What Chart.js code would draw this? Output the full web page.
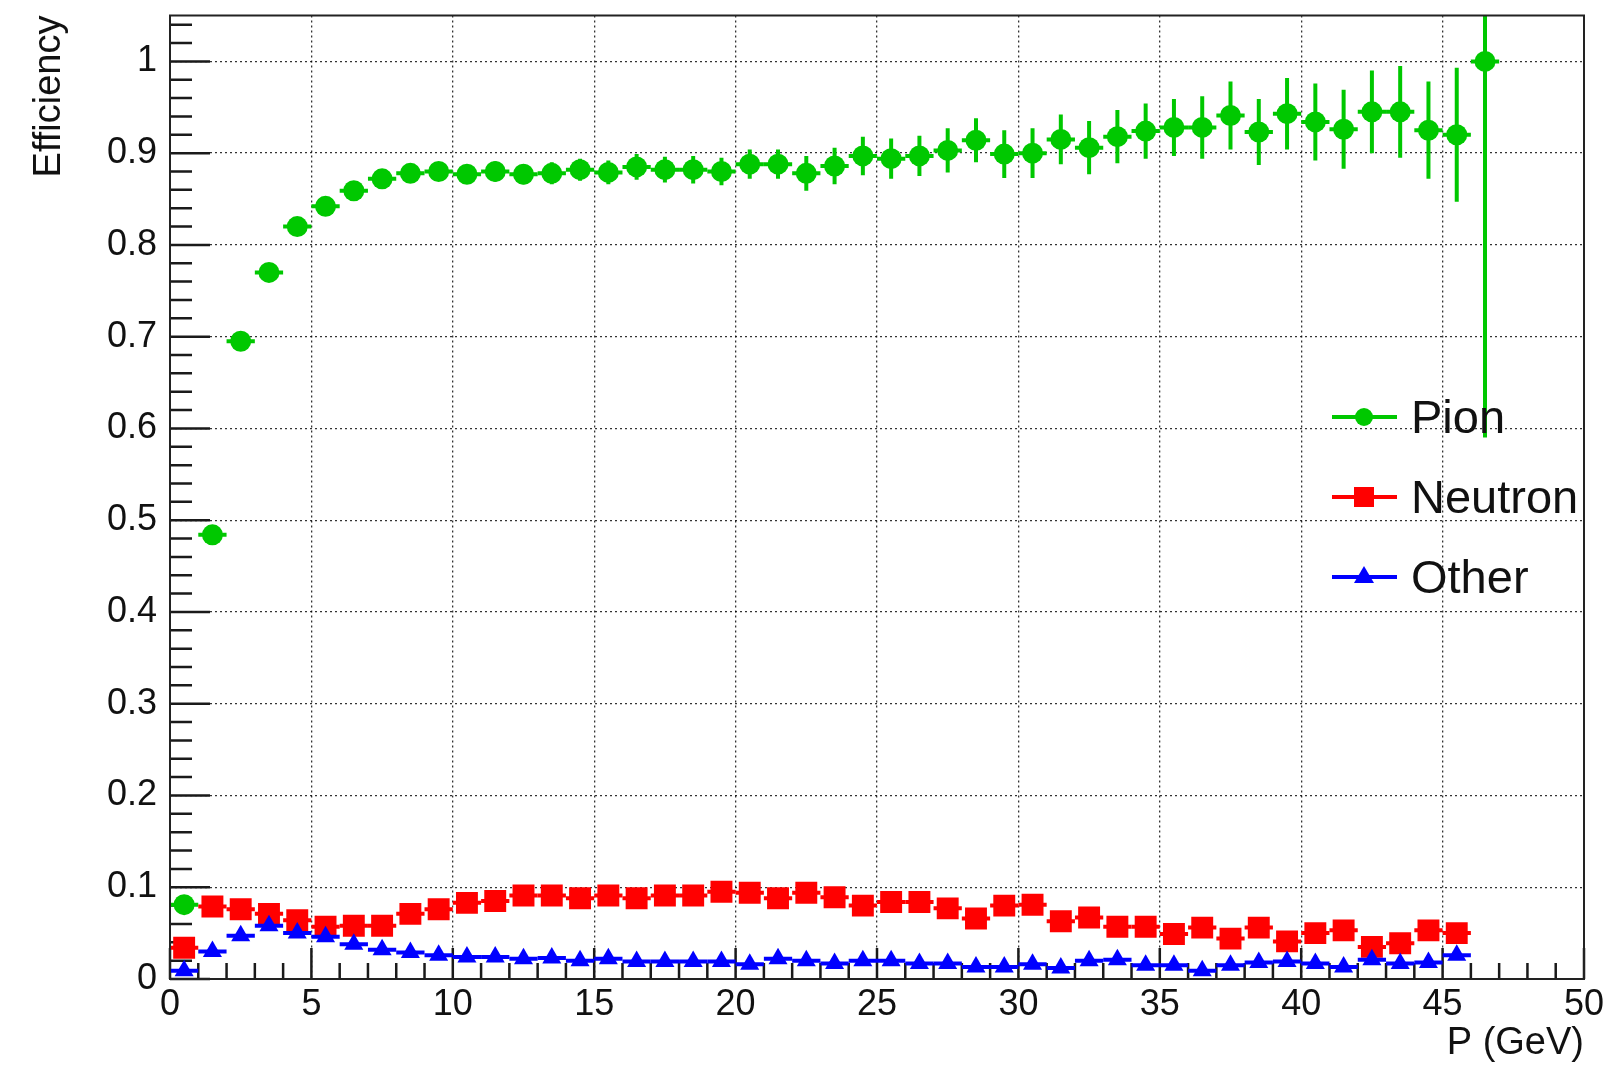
<!DOCTYPE html>
<html>
<head>
<meta charset="utf-8">
<script src="https://cdn.jsdelivr.net/npm/chart.js@4.4.1/dist/chart.umd.min.js"></script>
<style>
  html, body { margin: 0; padding: 0; background: #fff; }
  canvas { display: block; }
</style>
</head>
<body>
<canvas id="effChart" width="1603" height="1069"></canvas>
<script>
// bin centres, P in GeV
const pBins = [0.5, 1.5, 2.5, 3.5, 4.5, 5.5, 6.5, 7.5, 8.5, 9.5,
  10.5, 11.5, 12.5, 13.5, 14.5, 15.5, 16.5, 17.5, 18.5, 19.5,
  20.5, 21.5, 22.5, 23.5, 24.5, 25.5, 26.5, 27.5, 28.5, 29.5,
  30.5, 31.5, 32.5, 33.5, 34.5, 35.5, 36.5, 37.5, 38.5, 39.5,
  40.5, 41.5, 42.5, 43.5, 44.5, 45.5, 46.5];

const pionEff = [0.081, 0.484, 0.695, 0.770, 0.820, 0.842, 0.859, 0.872, 0.878, 0.880,
  0.877, 0.880, 0.877, 0.878, 0.882, 0.879, 0.885, 0.882, 0.882, 0.880,
  0.888, 0.888, 0.878, 0.886, 0.897, 0.894, 0.897, 0.903, 0.914, 0.899,
  0.900, 0.915, 0.906, 0.918, 0.924, 0.928, 0.928, 0.941, 0.923, 0.943,
  0.934, 0.926, 0.945, 0.945, 0.925, 0.920, 1.000];

const pionErr = [0.004, 0.006, 0.006, 0.006, 0.006, 0.006, 0.006, 0.007, 0.007, 0.008,
  0.010, 0.011, 0.011, 0.012, 0.012, 0.013, 0.014, 0.014, 0.015, 0.015,
  0.016, 0.016, 0.019, 0.020, 0.021, 0.022, 0.022, 0.024, 0.024, 0.026,
  0.027, 0.027, 0.029, 0.029, 0.030, 0.031, 0.034, 0.037, 0.036, 0.039,
  0.042, 0.043, 0.045, 0.050, 0.053, 0.073, 0.410];

const neutronEff = [0.034, 0.079, 0.076, 0.071, 0.064, 0.057, 0.058, 0.058, 0.071, 0.076,
  0.083, 0.085, 0.091, 0.091, 0.088, 0.091, 0.088, 0.091, 0.091, 0.095,
  0.094, 0.088, 0.094, 0.089, 0.080, 0.084, 0.084, 0.077, 0.066, 0.080,
  0.081, 0.063, 0.067, 0.057, 0.057, 0.049, 0.056, 0.044, 0.056, 0.041,
  0.050, 0.053, 0.035, 0.039, 0.053, 0.050];

const otherEff = [0.009, 0.030, 0.047, 0.058, 0.050, 0.046, 0.038, 0.032, 0.029, 0.026,
  0.024, 0.024, 0.022, 0.023, 0.020, 0.022, 0.019, 0.019, 0.019, 0.019,
  0.016, 0.022, 0.020, 0.017, 0.020, 0.020, 0.017, 0.017, 0.013, 0.013,
  0.016, 0.012, 0.020, 0.021, 0.015, 0.015, 0.009, 0.015, 0.018, 0.019,
  0.017, 0.013, 0.021, 0.017, 0.018, 0.026];

const xTickValues = [0, 5, 10, 15, 20, 25, 30, 35, 40, 45, 50];
const yTickValues = [0, 0.1, 0.2, 0.3, 0.4, 0.5, 0.6, 0.7, 0.8, 0.9, 1];
const binHalfWidth = 0.5;

const FONT = '"Liberation Sans", Arial, Helvetica, sans-serif';
const GREEN = '#00c800', RED = '#ff0000', BLUE = '#0000ff';

function points(vals) {
  return vals.map((v, i) => ({ x: pBins[i], y: v }));
}

// x error (bin width) and y error bars, drawn right before each dataset's markers
const errorBars = {
  id: 'errorBars',
  beforeDatasetDraw(chart, args) {
    const ds = chart.data.datasets[args.index];
    const { ctx, chartArea: a } = chart;
    const x = chart.scales.x, y = chart.scales.y;
    ctx.save();
    ctx.beginPath();
    ctx.rect(a.left, a.top, a.right - a.left, a.bottom - a.top);
    ctx.clip();
    ctx.strokeStyle = ds.pointBackgroundColor;
    ctx.lineWidth = 4;
    ds.data.forEach((pt, i) => {
      const px = x.getPixelForValue(pt.x), py = y.getPixelForValue(pt.y);
      ctx.beginPath();
      ctx.moveTo(x.getPixelForValue(pt.x - binHalfWidth), py);
      ctx.lineTo(x.getPixelForValue(pt.x + binHalfWidth), py);
      if (ds.errY) {
        ctx.moveTo(px, y.getPixelForValue(pt.y - ds.errY[i]));
        ctx.lineTo(px, y.getPixelForValue(pt.y + ds.errY[i]));
      }
      ctx.stroke();
    });
    ctx.restore();
  }
};

// ROOT style inward ticks + frame
const frameTicks = {
  id: 'frameTicks',
  beforeDatasetsDraw(chart) {
    const { ctx, chartArea: a } = chart;
    const x = chart.scales.x, y = chart.scales.y;
    ctx.save();
    ctx.strokeStyle = '#1a1a1a';
    ctx.lineWidth = 2.5;
    ctx.beginPath();
    for (let k = 0; k <= 52; k++) {
      const py = y.getPixelForValue(k * 0.02);
      if (py < a.top) break;
      const len = k % 5 === 0 ? 40 : 22;
      ctx.moveTo(a.left, py);
      ctx.lineTo(a.left + len, py);
    }
    for (let k = 0; k <= 50; k++) {
      const px = x.getPixelForValue(k);
      const len = k % 5 === 0 ? 31 : 16;
      ctx.moveTo(px, a.bottom);
      ctx.lineTo(px, a.bottom - len);
    }
    ctx.stroke();
    ctx.restore();
  },
  afterDatasetsDraw(chart) {
    const { ctx, chartArea: a } = chart;
    ctx.save();
    ctx.strokeStyle = '#222';
    ctx.lineWidth = 2;
    ctx.strokeRect(a.left, a.top, a.right - a.left, a.bottom - a.top);
    ctx.restore();
  }
};

const legendBox = {
  id: 'legendBox',
  afterDraw(chart) {
    const { ctx } = chart;
    const rows = [417, 497, 577];
    ctx.save();
    chart.data.datasets.forEach((ds, i) => {
      const yy = rows[i];
      const c = ds.pointBackgroundColor;
      ctx.strokeStyle = c;
      ctx.fillStyle = c;
      ctx.lineWidth = 4;
      ctx.beginPath();
      ctx.moveTo(1332, yy);
      ctx.lineTo(1397, yy);
      ctx.stroke();
      ctx.beginPath();
      if (ds.pointStyle === 'circle') {
        ctx.arc(1364, yy, 9, 0, Math.PI * 2);
      } else if (ds.pointStyle === 'rect') {
        ctx.rect(1354, yy - 10, 20, 20);
      } else {
        ctx.moveTo(1364, yy - 11);
        ctx.lineTo(1374, yy + 6);
        ctx.lineTo(1354, yy + 6);
        ctx.closePath();
      }
      ctx.fill();
      ctx.fillStyle = '#111';
      ctx.font = '47px ' + FONT;
      ctx.textBaseline = 'middle';
      ctx.textAlign = 'left';
      ctx.fillText(ds.label, 1411, yy + 3);
    });
    ctx.restore();
  }
};

new Chart(document.getElementById('effChart').getContext('2d'), {
  type: 'scatter',
  data: {
    datasets: [
      {
        label: 'Pion',
        data: points(pionEff),
        errY: pionErr,
        pointStyle: 'circle',
        pointRadius: 10.5,
        pointHoverRadius: 10.5,
        pointBorderWidth: 0,
        pointBackgroundColor: GREEN,
        borderColor: GREEN,
        order: 3
      },
      {
        label: 'Neutron',
        data: points(neutronEff),
        pointStyle: 'rect',
        pointRadius: 15.5,
        pointHoverRadius: 15.5,
        pointBorderWidth: 0,
        pointBackgroundColor: RED,
        borderColor: RED,
        order: 2
      },
      {
        label: 'Other',
        data: points(otherEff),
        pointStyle: 'triangle',
        pointRadius: 11,
        pointHoverRadius: 11,
        pointBorderWidth: 0,
        pointBackgroundColor: BLUE,
        borderColor: BLUE,
        order: 1
      }
    ]
  },
  options: {
    responsive: false,
    animation: false,
    devicePixelRatio: 1,
    layout: { padding: { top: 14, right: 19, left: 0, bottom: 0 } },
    plugins: {
      legend: { display: false },
      tooltip: { enabled: false }
    },
    scales: {
      x: {
        type: 'linear',
        min: 0,
        max: 50,
        afterBuildTicks: (s) => { s.ticks = xTickValues.map(v => ({ value: v })); },
        afterFit: (s) => { s.height = 90; s.paddingLeft = 0; s.paddingRight = 0; },
        grid: { color: 'rgba(0,0,0,0.8)', lineWidth: 1.3, drawTicks: false },
        border: { display: false, dash: [2, 3] },
        ticks: {
          autoSkip: false,
          maxRotation: 0,
          padding: 4,
          color: '#111',
          font: { family: FONT, size: 36 },
          callback: (v) => String(v)
        },
        title: {
          display: true,
          text: 'P (GeV)',
          align: 'end',
          color: '#111',
          font: { family: FONT, size: 38 },
          padding: { top: 0, bottom: 3 }
        }
      },
      y: {
        type: 'linear',
        min: 0,
        max: 1.05,
        afterBuildTicks: (s) => { s.ticks = yTickValues.map(v => ({ value: v })); },
        afterFit: (s) => { s.width = 170; s.paddingTop = 0; s.paddingBottom = 0; },
        grid: { color: 'rgba(0,0,0,0.8)', lineWidth: 1.3, drawTicks: false },
        border: { display: false, dash: [2, 3] },
        ticks: {
          autoSkip: false,
          padding: 13,
          color: '#111',
          font: { family: FONT, size: 36 },
          callback: (v) => String(+v.toFixed(2))
        },
        title: {
          display: true,
          text: 'Efficiency',
          align: 'end',
          color: '#111',
          font: { family: FONT, size: 38 },
          padding: { top: 27, bottom: 0 }
        }
      }
    }
  },
  plugins: [errorBars, frameTicks, legendBox]
});
</script>
</body>
</html>
